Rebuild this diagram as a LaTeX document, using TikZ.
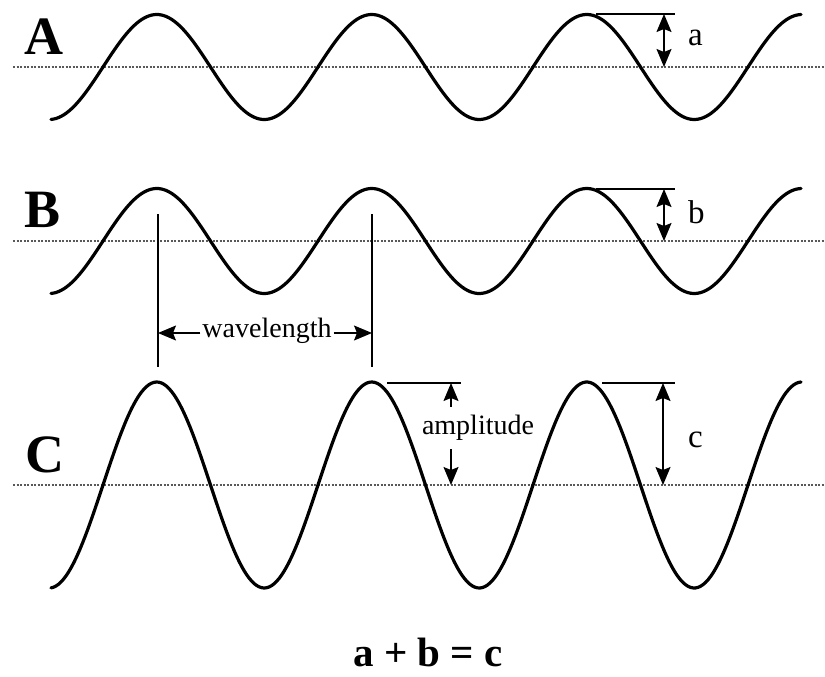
\documentclass[tikz,border=0pt]{standalone}
\usepackage{fontspec}
\setmainfont{Liberation Serif}
\usetikzlibrary{arrows.meta}
\begin{document}
\begin{tikzpicture}[x=1pt,y=-1pt,
  wave/.style={line width=3.2pt, line cap=round},
  baseln/.style={line width=1.8pt, dash pattern=on 2.2pt off 1.3pt, black!65},
  tick/.style={line width=1.3pt},
  dimarrow/.style={line width=1.3pt, -{Stealth[length=18pt,width=15pt,inset=3pt]}},
  dimboth/.style={line width=1.3pt, {Stealth[length=18pt,width=15pt,inset=3pt]}-{Stealth[length=18pt,width=15pt,inset=3pt]}},
  biglbl/.style={font=\bfseries\fontsize{54}{54}\selectfont, inner sep=0pt},
  letlbl/.style={font=\fontsize{33}{33}\selectfont, inner sep=0pt, anchor=west},
  wordlbl/.style={font=\fontsize{28}{28}\selectfont, inner sep=2pt},
  eqlbl/.style={font=\bfseries\fontsize{41}{41}\selectfont, inner sep=0pt, anchor=base}
]
\useasboundingbox (0,0) rectangle (825,677);

% baselines
\draw[baseln] (13,67) -- (825,67);
\draw[baseln] (13,241) -- (825,241);
\draw[baseln] (13,485) -- (825,485);

% waves
\draw[wave] plot[domain=51:801, samples=300, smooth] (\x, {67 - 52.5*sin((\x-103)/215*360)});
\draw[wave] plot[domain=51:801, samples=300, smooth] (\x, {241 - 52.5*sin((\x-103)/215*360)});
\draw[wave] plot[domain=51:801, samples=300, smooth] (\x, {485 - 103*sin((\x-103)/215*360)});

% row labels
\node[biglbl] (labA) at (44,37) {A};
\node[biglbl] (labB) at (43,210) {B};
\node[biglbl] (labC) at (45,455) {C};

% amplitude a
\coordinate (aL) at (596,14);
\coordinate (aR) at (675,14);
\coordinate (aT) at (664,14);
\coordinate (aB) at (664,67);
\draw[tick] (aL) -- (aR);
\draw[dimboth] (aT) -- (aB);
\node[letlbl] (laba) at (688,38) {a};

% amplitude b
\coordinate (bL) at (596,189);
\coordinate (bR) at (675,189);
\coordinate (bT) at (664,189);
\coordinate (bB) at (664,241);
\draw[tick] (bL) -- (bR);
\draw[dimboth] (bT) -- (bB);
\node[letlbl] (labb) at (688,212) {b};

% wavelength
\coordinate (w1t) at (158,214);
\coordinate (w1b) at (158,367);
\coordinate (w2t) at (372,214);
\coordinate (w2b) at (372,367);
\draw[tick] (w1t) -- (w1b);
\draw[tick] (w2t) -- (w2b);
\node[wordlbl] (wl) at (267,331) {wavelength};
\coordinate (wlL) at (158,333);
\coordinate (wlR) at (372,333);
\draw[dimarrow] (wl.west |- wlL) -- (wlL);
\draw[dimarrow] (wl.east |- wlR) -- (wlR);

% amplitude (C)
\coordinate (amL) at (387,383);
\coordinate (amR) at (461,383);
\draw[tick] (amL) -- (amR);
\node[wordlbl] (amp) at (478,428) {amplitude};
\coordinate (amT) at (451,383);
\coordinate (amT2) at (451,407);
\coordinate (amB) at (451,485);
\coordinate (amB2) at (451,449);
\draw[dimarrow] (amT2) -- (amT);
\draw[dimarrow] (amB2) -- (amB);

% amplitude c
\coordinate (cL) at (602,383);
\coordinate (cR) at (675,383);
\coordinate (cT) at (663,383);
\coordinate (cB) at (663,485);
\draw[tick] (cL) -- (cR);
\draw[dimboth] (cT) -- (cB);
\node[letlbl] (labc) at (688,440) {c};

% equation
\node[eqlbl] (eq) at (428,666) {a + b = c};
\end{tikzpicture}
\end{document}
